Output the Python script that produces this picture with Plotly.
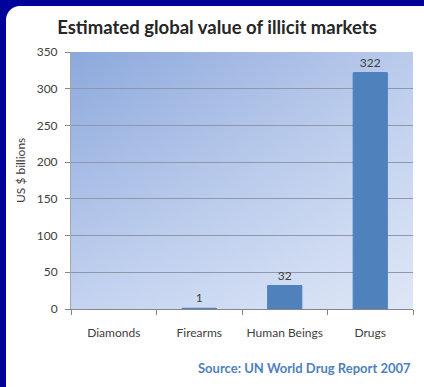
import base64, struct, zlib
import plotly.graph_objects as go

categories = ["Diamonds", "Firearms", "Human Beings", "Drugs"]
values = [None, 1, 32, 322]
labels = ["", "1", "32", "322"]
y_ticks = [0, 50, 100, 150, 200, 250, 300, 350]

W, H = 424, 387
L, R, T, B = 71, 11, 52, 78
PW, PH = W - L - R, H - T - B


def png_uri(w, h, pixel_fn, alpha=False):
    rows = bytearray()
    for j in range(h):
        rows.append(0)
        for i in range(w):
            rows.extend(pixel_fn(i, j))
    ctype = 6 if alpha else 2
    def chunk(tag, data):
        c = struct.pack(">I", len(data)) + tag + data
        return c + struct.pack(">I", zlib.crc32(tag + data) & 0xFFFFFFFF)
    png = b"\x89PNG\r\n\x1a\n" + chunk(b"IHDR", struct.pack(">IIBBBBB", w, h, 8, ctype, 0, 0, 0))
    png += chunk(b"IDAT", zlib.compress(bytes(rows), 9)) + chunk(b"IEND", b"")
    return "data:image/png;base64," + base64.b64encode(png).decode()


# gradient for plot area (top-left darker blue -> bottom-right lighter)
tl, tr, bl, br = (141, 169, 220), (186, 203, 236), (196, 211, 240), (222, 231, 246)
gw, gh = 86, 64
def grad(i, j):
    u, v = i / (gw - 1), j / (gh - 1)
    return bytes(int(round((1-u)*(1-v)*tl[k] + u*(1-v)*tr[k] + (1-u)*v*bl[k] + u*v*br[k])) for k in range(3))
grad_uri = png_uri(gw, gh, grad)

# white panel with rounded top-left corner
px0, py0 = 6, 6
pw, ph = W - px0, H - py0
rad = 14
def panel(i, j):
    if i < rad and j < rad:
        dx, dy = rad - i - 0.5, rad - j - 0.5
        d = (dx*dx + dy*dy) ** 0.5
        a = max(0.0, min(1.0, rad - d + 0.5))
        return bytes((255, 255, 255, int(a*255)))
    return b"\xff\xff\xff\xff"
panel_uri = png_uri(pw, ph, panel, alpha=True)

fig = go.Figure()
fig.add_trace(go.Bar(
    x=categories, y=values, text=labels, textposition="outside",
    textfont=dict(color="#404040", size=12),
    marker=dict(color="#4F81BD", line=dict(color="#4F81BD", width=1)),
    width=0.4, cliponaxis=False,
))

fig.update_layout(
    width=W, height=H,
    margin=dict(l=L, r=R, t=T, b=B),
    paper_bgcolor="#00009A",
    plot_bgcolor="rgba(0,0,0,0)",
    font=dict(family="Lato, Open Sans, sans-serif", color="#404040", size=12),
    showlegend=False,
    title=dict(text="<b>Estimated global value of illicit markets</b>",
               x=217/W, xanchor="center", y=1-28/H, yanchor="middle",
               font=dict(size=18.5, color="#262626")),
    images=[
        dict(source=panel_uri, xref="paper", yref="paper",
             x=(px0-L)/PW, y=(H-B-py0)/PH, sizex=pw/PW, sizey=ph/PH,
             xanchor="left", yanchor="top", sizing="stretch", layer="below"),
        dict(source=grad_uri, xref="paper", yref="paper",
             x=0, y=1, sizex=1, sizey=1,
             xanchor="left", yanchor="top", sizing="stretch", layer="below"),
    ],
    annotations=[
        dict(text="US $ billions", textangle=-90, xref="paper", yref="paper",
             x=(20-L)/PW, y=(H-B-171)/PH, xanchor="center", yanchor="middle",
             showarrow=False, font=dict(size=12, color="#404040")),
        dict(text="<b>Source: UN World Drug Report 2007</b>", xref="paper", yref="paper",
             x=1, y=(H-B-368)/PH, xanchor="right", yanchor="middle",
             showarrow=False, font=dict(size=13, color="#4F81BD")),
    ],
)
fig.update_xaxes(
    showgrid=False, showline=True, linecolor="#868686", linewidth=1,
    ticks="outside", tickson="boundaries", ticklen=5, tickcolor="#868686",
    ticklabelstandoff=13, tickfont=dict(size=12, color="#404040"),
)
fig.update_yaxes(
    range=[0, 350], tickvals=y_ticks, showgrid=True, gridcolor="#8E98AA", gridwidth=1,
    showline=True, linecolor="#A6A6A6", linewidth=1,
    ticks="outside", ticklen=5, tickcolor="#868686", ticklabelstandoff=5,
    tickfont=dict(size=12, color="#404040"), zeroline=False,
)

fig.write_html("out.html", config={"displayModeBar": False},
               post_script="document.body.style.margin='0';document.body.style.padding='0';")
